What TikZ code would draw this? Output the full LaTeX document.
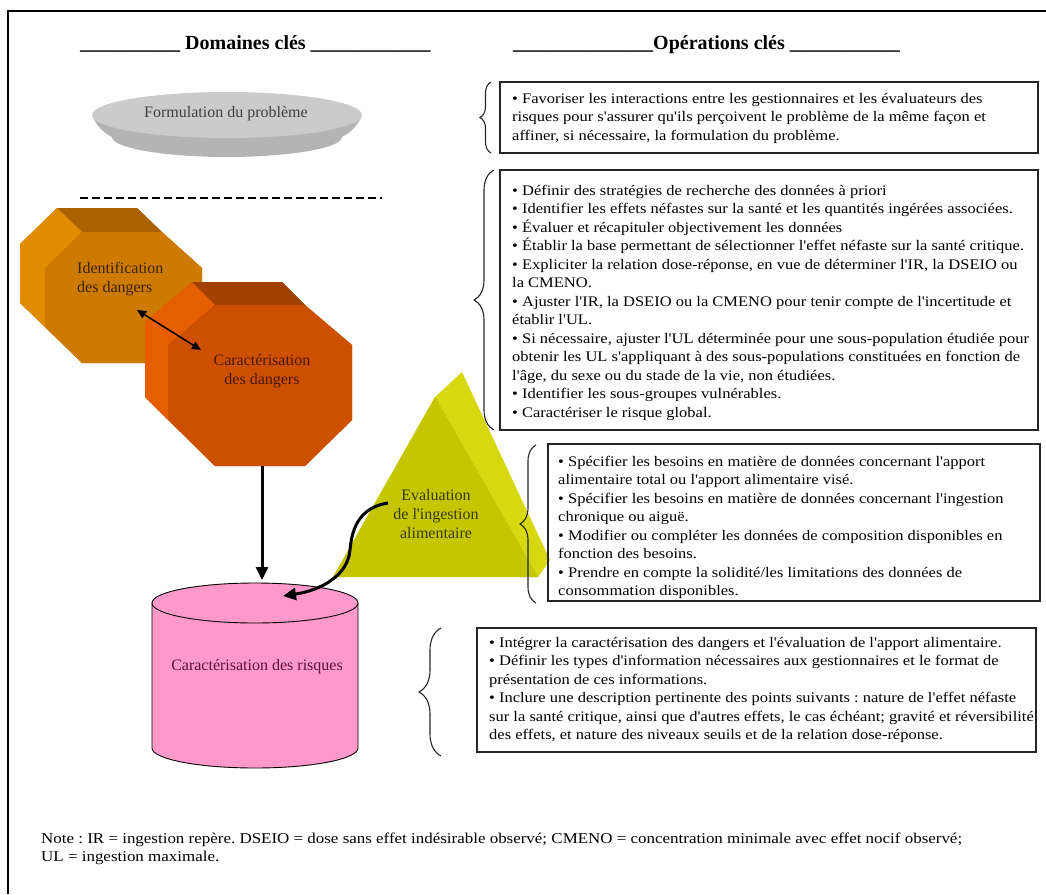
\documentclass[tikz,border=0pt]{standalone}
\usepackage{fontspec}
\setmainfont{Liberation Serif}
\newfontfamily\bodyfont[FakeStretch=1.13]{Liberation Serif}
\newfontfamily\plainfont{Liberation Serif}
\usetikzlibrary{arrows.meta,decorations.pathreplacing}
\definecolor{discTop}{HTML}{CBCBCB}
\definecolor{discRim}{HTML}{B4B4B4}
\definecolor{oAfront}{HTML}{CC7A00}
\definecolor{oAtop}{HTML}{A86200}
\definecolor{oAleft}{HTML}{E08C00}
\definecolor{oBfront}{HTML}{CC5000}
\definecolor{oBtop}{HTML}{A24000}
\definecolor{oBleft}{HTML}{E65E00}
\definecolor{pyrFront}{HTML}{C6C600}
\definecolor{pyrSide}{HTML}{D8D810}
\definecolor{cylPink}{HTML}{FF99CC}
\definecolor{txtBrown}{HTML}{3C2200}
\definecolor{txtRed}{HTML}{4A1800}
\definecolor{txtOlive}{HTML}{3A3A00}
\definecolor{txtPurple}{HTML}{5A1040}
\frenchspacing
\begin{document}
\begin{tikzpicture}[x=1pt,y=-1pt,
  boxframe/.style={draw=black!85,line width=1.8pt},
  bodytxt/.style={anchor=north west,align=left,inner sep=0pt,font=\bodyfont\fontsize{14.6}{18.5}\selectfont},
  shapetxt/.style={inner sep=0pt,font=\plainfont\fontsize{16}{19}\selectfont},
  curly/.style={draw=black!85,line width=1.1pt,decorate},
  header/.style={inner sep=0pt,anchor=base west,font=\fontsize{20}{22}\selectfont\bfseries},
  bigarrow/.style={line width=3pt,-{Triangle[length=13pt,width=12pt]}}]
\useasboundingbox (0,0) rectangle (1046,894);
% frame
\draw[line width=2.4pt] (8,894) -- (8,11) -- (1046,11);
% headers
\node[header] (h1) at (80,49) {\_\_\_\_\_\_\_\_\_\_ Domaines clés \_\_\_\_\_\_\_\_\_\_\_\_};
\node[header] (h2) at (513,49) {\_\_\_\_\_\_\_\_\_\_\_\_\_\_Opérations clés \_\_\_\_\_\_\_\_\_\_\_};
% problem formulation disc
\fill[discRim] (92,115) .. controls (96,126) and (104,133) .. (112,137)
  .. controls (112,148) and (164,157) .. (227,157)
  .. controls (290,157) and (342,148) .. (342,137)
  .. controls (350,133) and (358,126) .. (362,115) -- cycle;
\fill[discTop] (227,115) ellipse [x radius=135pt, y radius=23pt];
\node[shapetxt,text=black!75] (pf) at (226,114) {Formulation du problème};
% dashed separator
\draw[line width=1.6pt,dash pattern=on 8pt off 4pt] (80,198) coordinate (d1) -- (382,198) coordinate (d2);
% octagon A (identification)
\fill[oAfront] (57,208) -- (137,208) -- (162,232) -- (202,268) -- (202,327) -- (162,363) -- (82,363) -- (20,303) -- (20,244) -- cycle;
\fill[oAtop] (57,208) -- (137,208) -- (162,232) -- (82,232) -- cycle;
\fill[oAleft] (57,208) -- (82,232) -- (45,268) -- (45,327) -- (20,303) -- (20,244) -- cycle;
\fill[oAfront] (82,232) -- (162,232) -- (202,268) -- (202,327) -- (162,363) -- (82,363) -- (45,327) -- (45,268) -- cycle;
\node[shapetxt,text=txtBrown,align=left,anchor=west] (idd) at (77,279) {Identification\\des dangers};
% octagon B (caracterisation des dangers)
\fill[oBfront] (192,282) -- (282,282) -- (305,305) -- (352,345) -- (352,420) -- (305,466) -- (215,466) -- (145,397) -- (145,322) -- cycle;
\fill[oBtop] (192,282) -- (282,282) -- (305,305) -- (215,305) -- cycle;
\fill[oBleft] (192,282) -- (215,305) -- (168,345) -- (168,420) -- (145,397) -- (145,322) -- cycle;
\fill[oBfront] (215,305) -- (305,305) -- (352,345) -- (352,420) -- (305,466) -- (215,466) -- (168,420) -- (168,345) -- cycle;
\node[shapetxt,text=txtRed,align=center] (cd) at (262,371) {Caractérisation\\des dangers};
\coordinate (dA) at (137,310);
\coordinate (dB) at (201,350);
\draw[line width=1.5pt,{Triangle[length=9pt,width=8pt]}-{Triangle[length=9pt,width=8pt]}] (dA) -- (dB);
% pyramid
\fill[pyrSide] (462,372) -- (550,560) -- (538,577) -- (333,577) -- (435,397) -- cycle;
\fill[pyrFront] (435,397) -- (333,577) -- (538,577) -- cycle;
\node[shapetxt,text=txtOlive,align=center] (ev) at (436,514) {Evaluation\\de l'ingestion\\alimentaire};
% cylinder
\draw[fill=cylPink,line width=0.9pt] (152,603) -- (152,748)
  .. controls (152,759) and (198,768) .. (255,768)
  .. controls (312,768) and (358,759) .. (358,748) -- (358,603);
\draw[fill=cylPink,line width=0.9pt] (255,603) ellipse [x radius=103pt, y radius=20pt];
\node[shapetxt,text=txtPurple] (cr) at (257,667) {Caractérisation des risques};
\coordinate (cyltop) at (262,580);
\coordinate (cylin) at (283,596);
\coordinate (cdbot) at (262,466);
% connectors
\draw[bigarrow] (cdbot) -- (cyltop);
\coordinate (evw) at (388,503);
\draw[bigarrow] (evw) .. controls (362,507) and (352,525) .. (350,550)
  .. controls (348,575) and (322,590) .. (cylin);
% boxes
\draw[boxframe] (500,82) rectangle (1038,153);
\node[bodytxt] (t1) at (512,90) {\strut• Favoriser les interactions entre les gestionnaires et les évaluateurs des\\risques pour s'assurer qu'ils perçoivent le problème de la même façon et\\affiner, si nécessaire, la formulation du problème.};
\draw[curly,decoration={brace,amplitude=11pt}] (491,153) -- (491,82);

\draw[boxframe] (500,170) rectangle (1038,430);
\node[bodytxt] (t2) at (512,182) {\strut• Définir des stratégies de recherche des données à priori\\• Identifier les effets néfastes sur la santé et les quantités ingérées associées.\\• Évaluer et récapituler objectivement les données\\• Établir la base permettant de sélectionner l'effet néfaste sur la santé critique.\\• Expliciter la relation dose-réponse, en vue de déterminer l'IR, la DSEIO ou\\la CMENO.\\• Ajuster l'IR, la DSEIO ou la CMENO pour tenir compte de l'incertitude et\\établir l'UL.\\• Si nécessaire, ajuster l'UL déterminée pour une sous-population étudiée pour\\obtenir les UL s'appliquant à des sous-populations constituées en fonction de\\l'âge, du sexe ou du stade de la vie, non étudiées.\\• Identifier les sous-groupes vulnérables.\\• Caractériser le risque global.};
\draw[curly,decoration={brace,amplitude=20pt}] (494,430) -- (494,170);

\draw[boxframe] (548,444) rectangle (1040,601);
\node[bodytxt] (t3) at (558,453) {\strut• Spécifier les besoins en matière de données concernant l'apport\\alimentaire total ou l'apport alimentaire visé.\\• Spécifier les besoins en matière de données concernant l'ingestion\\chronique ou aiguë.\\• Modifier ou compléter les données de composition disponibles en\\fonction des besoins.\\• Prendre en compte la solidité/les limitations des données de\\consommation disponibles.};
\draw[curly,decoration={brace,amplitude=16pt}] (536,603) -- (536,445);

\draw[boxframe] (477,628) rectangle (1036,752);
\node[bodytxt] (t4) at (489,634) {\strut• Intégrer la caractérisation des dangers et l'évaluation de l'apport alimentaire.\\• Définir les types d'information nécessaires aux gestionnaires et le format de\\présentation de ces informations.\\• Inclure une description pertinente des points suivants : nature de l'effet néfaste\\sur la santé critique, ainsi que d'autres effets, le cas échéant; gravité et réversibilité\\des effets, et nature des niveaux seuils et de la relation dose-réponse.};
\draw[curly,decoration={brace,amplitude=22pt}] (441,756) -- (441,628);
% note
\node[bodytxt,font=\bodyfont\fontsize{15}{18}\selectfont] (note) at (41,831) {\strut{}Note : IR = ingestion repère. DSEIO = dose sans effet indésirable observé; CMENO = concentration minimale avec effet nocif observé;\\UL = ingestion maximale.};
\end{tikzpicture}
\end{document}
